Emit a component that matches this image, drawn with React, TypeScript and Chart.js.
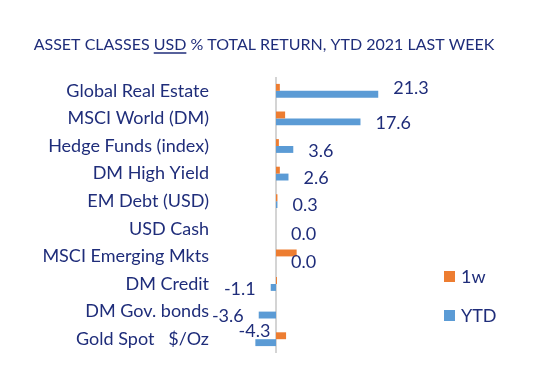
import React, { useEffect, useRef } from 'react';
import { Chart, registerables } from 'chart.js';

Chart.register(...registerables);

const categories = [
  'Global Real Estate',
  'MSCI World (DM)',
  'Hedge Funds (index)',
  'DM High Yield',
  'EM Debt (USD)',
  'USD Cash',
  'MSCI Emerging Mkts',
  'DM Credit',
  'DM Gov. bonds',
  'Gold Spot   $/Oz',
];
const oneWeek = [0.8, 1.9, 0.6, 0.8, 0.3, 0.0, 4.3, 0.2, 0.0, 2.1];
const ytd = [21.3, 17.6, 3.6, 2.6, 0.3, 0.0, 0.0, -1.1, -3.6, -4.3];
const seriesNames = ['1w', 'YTD'];
const titleParts = ['ASSET CLASSES ', 'USD', ' % TOTAL RETURN, YTD 2021 LAST WEEK'];

const FONT = 'Lato, "Open Sans", sans-serif';
const NAVY = '#1f2d7a';
const ORANGE = '#ED7D31';
const BLUE = '#5B9BD5';
const labelDy = [-6, 1, 1.5, 1.5, 1, 2, 2, 1.5, 1, -11];
const labelOutside = [15, 15, 15, 15, 15, 15, 15, 15, 15, -15];

const titlePlugin = {
  id: 'customTitle',
  afterDraw(chart: any) {
    const ctx = chart.ctx;
    ctx.save();
    ctx.font = `16px ${FONT}`;
    ctx.fillStyle = NAVY;
    ctx.textBaseline = 'alphabetic';
    const full = titleParts.join('');
    const w = ctx.measureText(full).width;
    const cx = chart.width / 2 - 15;
    const x0 = cx - w / 2;
    const y = 50;
    ctx.textAlign = 'left';
    ctx.fillText(full, x0, y);
    const pre = ctx.measureText(titleParts[0]).width;
    const uw = ctx.measureText(titleParts[1]).width;
    ctx.strokeStyle = NAVY;
    ctx.lineWidth = 1.5;
    ctx.beginPath();
    ctx.moveTo(x0 + pre, y + 3);
    ctx.lineTo(x0 + pre + uw, y + 3);
    ctx.stroke();
    ctx.restore();
  },
};

const zeroLinePlugin = {
  id: 'zeroLine',
  beforeDatasetsDraw(chart: any) {
    const { ctx, chartArea, scales } = chart;
    const x = scales.x.getPixelForValue(0);
    ctx.save();
    ctx.strokeStyle = '#d4d4d4';
    ctx.lineWidth = 2;
    ctx.beginPath();
    ctx.moveTo(x, chartArea.top);
    ctx.lineTo(x, chartArea.bottom);
    ctx.stroke();
    ctx.restore();
  },
};

const dataLabelPlugin = {
  id: 'dataLabels',
  afterDatasetsDraw(chart: any) {
    const ctx = chart.ctx;
    const meta = chart.getDatasetMeta(1);
    ctx.save();
    ctx.font = `18px ${FONT}`;
    ctx.fillStyle = NAVY;
    ctx.textBaseline = 'middle';
    meta.data.forEach((bar: any, i: number) => {
      const v = ytd[i];
      const off = labelOutside[i];
      const text = v.toFixed(1);
      let x: number;
      if (v >= 0) {
        ctx.textAlign = 'left';
        x = bar.x + off;
      } else {
        ctx.textAlign = 'right';
        x = bar.x - off;
      }
      ctx.fillText(text, x, bar.y + labelDy[i]);
    });
    ctx.restore();
  },
};

const legendPlugin = {
  id: 'customLegend',
  afterDraw(chart: any) {
    const { ctx, chartArea } = chart;
    ctx.save();
    ctx.font = `18px ${FONT}`;
    ctx.textBaseline = 'middle';
    ctx.textAlign = 'left';
    chart.data.datasets.forEach((ds: any, i: number) => {
      const bx = chartArea.right + 24;
      const by = chartArea.bottom - 82 + i * 39;
      ctx.fillStyle = ds.backgroundColor;
      ctx.fillRect(bx, by, 11, 11);
      ctx.fillStyle = NAVY;
      ctx.fillText(ds.label, bx + 17, by + 6);
    });
    ctx.restore();
  },
};

export default function App() {
  const ref = useRef<HTMLCanvasElement>(null);
  useEffect(() => {
    const canvas = ref.current!;
    const chart = new Chart(canvas, {
      type: 'bar',
      data: {
        labels: categories,
        datasets: [
          { label: seriesNames[0], data: oneWeek, backgroundColor: ORANGE, categoryPercentage: 0.5, barPercentage: 1.0 },
          { label: seriesNames[1], data: ytd, backgroundColor: BLUE, categoryPercentage: 0.5, barPercentage: 1.0 },
        ],
      },
      options: {
        indexAxis: 'y',
        responsive: false,
        animation: false,
        layout: { padding: { top: 77, bottom: 17, left: 0, right: 138 } },
        plugins: {
          legend: { display: false },
          title: { display: false },
          tooltip: { enabled: false },
        },
        scales: {
          x: { display: false, min: -10, max: 30 },
          y: {
            grid: { display: false, drawTicks: false },
            border: { display: false },
            ticks: { color: NAVY, font: { family: FONT, size: 18 }, padding: 19, autoSkip: false },
            afterFit(scale: any) {
              scale.width = 228;
              scale.paddingTop = 0;
              scale.paddingBottom = 0;
            },
          },
        },
      },
      plugins: [titlePlugin, zeroLinePlugin, dataLabelPlugin, legendPlugin],
    } as any);
    return () => chart.destroy();
  }, []);
  return (
    <div style={{ position: 'fixed', left: 0, top: 0, width: 558, height: 370, background: '#fff' }}>
      <canvas ref={ref} width={558} height={370} />
    </div>
  );
}
